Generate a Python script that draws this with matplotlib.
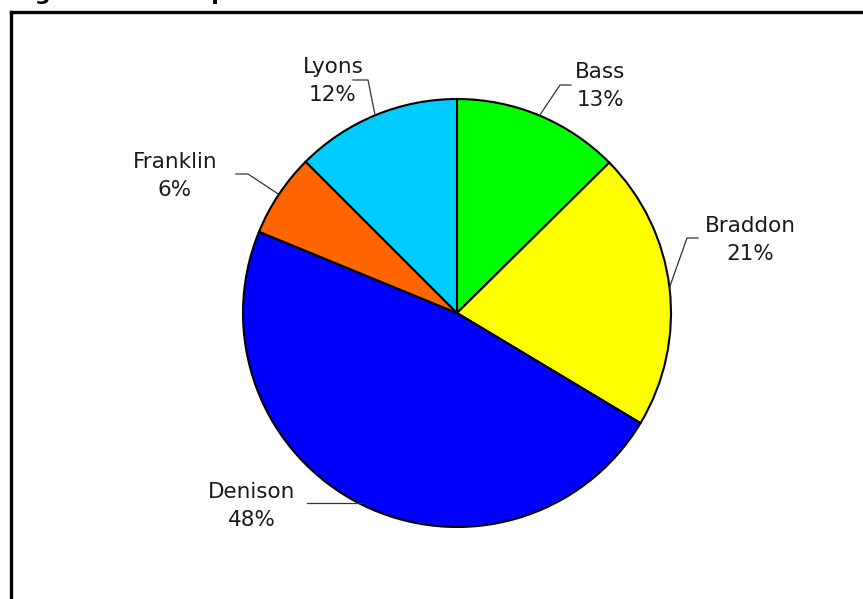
import numpy as np
import matplotlib
matplotlib.use('Agg')
import matplotlib.pyplot as plt
from matplotlib.lines import Line2D

# slices read clockwise from 12 o'clock
names = ['Bass', 'Braddon', 'Denison', 'Franklin', 'Lyons']
shares = [12.6, 21.0, 47.6, 6.3, 12.5]
colours = ['#00FF00', '#FFFF00', '#0000FF', '#FF6600', '#00CCFF']

# where each label sits (pixels, origin bottom-left) and the elbow of its leader
label_pos = [(600, 513), (750, 359), (252, 93), (175, 423), (333, 518)]
elbow_pos = [(560, 514), (687, 361), (364, 96), (248, 425), (368, 519)]
elbow_end = [(571, 514), (698, 361), (307, 96), (236, 425), (353, 519)]

W, H = 863, 599
fig = plt.figure(figsize=(W / 100, H / 100), dpi=100)
ax = fig.add_axes([0, 0, 1, 1])

cx, cy, r = 457, H - 313, 214
wedges, _ = ax.pie(shares, colors=colours, startangle=90, counterclock=False,
                   center=(cx, cy), radius=r,
                   wedgeprops=dict(edgecolor='black', linewidth=1.5))
ax.set_xlim(0, W)
ax.set_ylim(0, H)
ax.set_aspect('auto')
ax.axis('off')

total = sum(shares)
for w, name, s, lp, ep, ee in zip(wedges, names, shares, label_pos, elbow_pos, elbow_end):
    mid = np.deg2rad((w.theta1 + w.theta2) / 2)
    px, py = cx + r * np.cos(mid), cy + r * np.sin(mid)
    if name == 'Denison':
        # this leader runs flat to the rim
        px, py = ep[0], ep[1]
    ax.plot([px, ep[0], ee[0]], [py, ep[1], ee[1]], color='#333333', lw=0.9)
    ax.text(lp[0], lp[1], f'{name}\n{round(s / total * 100)}%', ha='center', va='center',
            fontsize=15.5, linespacing=1.45, color='#1a1a1a', family='DejaVu Sans')

# outer frame (only left and top edges are inside the picture)
fig.add_artist(Line2D([11 / W, 11 / W], [0, 1 - 12 / H], transform=fig.transFigure,
                      color='black', lw=2.4, solid_capstyle='projecting'))
fig.add_artist(Line2D([11 / W, 1], [1 - 12 / H, 1 - 12 / H], transform=fig.transFigure,
                      color='black', lw=2.4, solid_capstyle='projecting'))

# heading, cut off by the top edge so only descenders show
fig.text(12 / W, 1 + 0.5 / H, 'Figure 2.1: Composition', ha='left', va='baseline',
         fontsize=16, fontweight='bold', family='DejaVu Sans')

fig.savefig('out.png', dpi=100)
